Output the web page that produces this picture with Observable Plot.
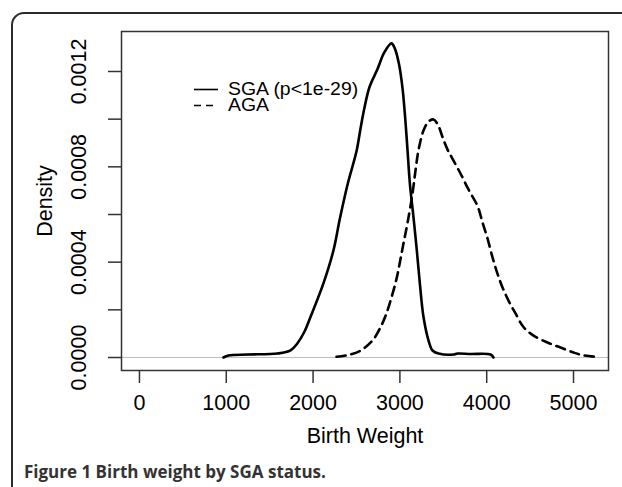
<!DOCTYPE html>
<html><head><meta charset="utf-8">
<script src="https://cdn.jsdelivr.net/npm/d3@7"></script>
<script src="https://cdn.jsdelivr.net/npm/@observablehq/plot@0.6"></script>
<style>
body{margin:0;background:#fff;}
#wrap{position:relative;width:622px;height:487px;overflow:hidden;background:#fff;}
#border{position:absolute;left:11px;top:12px;width:700px;height:600px;border:2px solid #2b2b2b;border-radius:13px;box-sizing:border-box;}
#chart{position:absolute;left:0;top:0;}
#legend{position:absolute;left:0;top:0;font-family:"Liberation Sans",Arial,sans-serif;font-size:18px;line-height:15px;color:#000;}
.row{position:absolute;left:194px;height:15px;display:flex;align-items:center;white-space:nowrap;}
.row svg{display:block;margin-right:10px;}
.row span{display:inline-block;transform:scaleX(1.08);transform-origin:left center;}
#caption{position:absolute;left:24px;top:460px;font-family:"Open Sans",sans-serif;font-weight:700;font-size:17px;color:#333;white-space:nowrap;}
</style></head>
<body><div id="wrap"><div id="border"></div><div id="chart"></div><div id="legend"></div><div id="caption"></div></div>
<script>
// SGA density curve (birth weight, density)
const sgaWeight = [968,1025,1244,1590,1740,1820,1900,1970,2120,2235,2310,2400,2500,2546,2590,2650,2742,2820,2903,2940,2990,3030,3060,3088,3115,3157,3195,3230,3272,3330,3376,3445,3618,3664,3813,4044,4078];
const sgaDensity = [0,0.0000084,0.0000126,0.0000168,0.000030,0.000060,0.000108,0.000170,0.000312,0.000450,0.000585,0.000730,0.000865,0.000960,0.001045,0.001135,0.001210,0.001280,0.001318,0.001298,0.001230,0.001130,0.001010,0.000869,0.000730,0.000587,0.000449,0.000310,0.000170,0.0000713,0.0000294,0.0000168,0.0000126,0.0000168,0.0000147,0.0000126,0];
// AGA density curve
const agaWeight = [2270,2400,2546,2684,2776,2845,2903,2961,3000,3041,3088,3145,3180,3214,3272,3330,3387,3440,3491,3549,3600,3698,3790,3894,3952,4009,4067,4124,4182,4251,4332,4424,4539,4700,4850,5000,5100,5250];
const agaDensity = [0.000003,0.000010,0.000029,0.000071,0.000126,0.000185,0.000252,0.000330,0.000400,0.000478,0.000565,0.000688,0.000785,0.000869,0.000952,0.000990,0.000999,0.000975,0.000925,0.000872,0.000838,0.000772,0.000705,0.000636,0.000566,0.000500,0.000420,0.000352,0.000294,0.000239,0.000185,0.000128,0.000092,0.000063,0.000042,0.000021,0.000010,0.000003];
const xTicks = [0,1000,2000,3000,4000,5000];
const yTicks = [0,0.0002,0.0004,0.0006,0.0008,0.0010,0.0012];
const yLabelTicks = [0,0.0004,0.0008,0.0012];
const seriesNames = ["SGA (p<1e-29)","AGA"];
const captionBold = "Figure 1";
const captionText = "Birth weight by SGA status.";

const sga = sgaWeight.map((w,i)=>({w, d:sgaDensity[i]}));
const aga = agaWeight.map((w,i)=>({w, d:agaDensity[i]}));

const chart = Plot.plot({
  width: 622, height: 455,
  marginLeft: 121, marginRight: 14, marginTop: 31, marginBottom: 85,
  style: {fontFamily: "'Liberation Sans', Arial, sans-serif", fontSize: "21.5px", color: "#000", background: "transparent"},
  x: {domain: [-207, 5403]},
  y: {domain: [-0.0000545, 0.0013678]},
  marks: [
    Plot.ruleY([0], {stroke: "#bdbdbd", strokeWidth: 1.2}),
    Plot.line(sga, {x: "w", y: "d", stroke: "#000", strokeWidth: 2.6, curve: "catmull-rom"}),
    Plot.line(aga, {x: "w", y: "d", stroke: "#000", strokeWidth: 2.6, strokeDasharray: "9,6", curve: "catmull-rom"}),
    Plot.frame({stroke: "#333", strokeWidth: 1.5}),
    Plot.axisX(xTicks, {tickSize: 13, tickPadding: 11, stroke: "#333", strokeWidth: 1.5, tickFormat: d => String(d), label: "Birth Weight", labelAnchor: "center", labelArrow: "none", labelOffset: 72}),
    Plot.axisY(yTicks, {tickSize: 13, stroke: "#333", strokeWidth: 1.5, tickFormat: () => "", label: null}),
    Plot.axisY(yLabelTicks, {tickSize: 0, tickPadding: 36, tickRotate: -90, textAnchor: "middle", tickFormat: d3.format(".4f"), label: "Density", labelAnchor: "center", labelArrow: "none", labelOffset: 85})
  ]
});
document.getElementById("chart").appendChild(chart);

// legend
const leg = document.getElementById("legend");
const rowsY = [82, 98];
seriesNames.forEach((name, i) => {
  const row = document.createElement("div");
  row.className = "row";
  row.style.top = rowsY[i] + "px";
  const dash = i === 0 ? "" : ' stroke-dasharray="7,5"';
  row.innerHTML = `<svg width="24" height="15"><line x1="0" x2="24" y1="7.5" y2="7.5" stroke="#000" stroke-width="1.6"${dash}/></svg><span>${name.replace("<","&lt;")}</span>`;
  leg.appendChild(row);
});
document.getElementById("caption").innerHTML = `${captionBold} ${captionText}`;
</script>
</body></html>
